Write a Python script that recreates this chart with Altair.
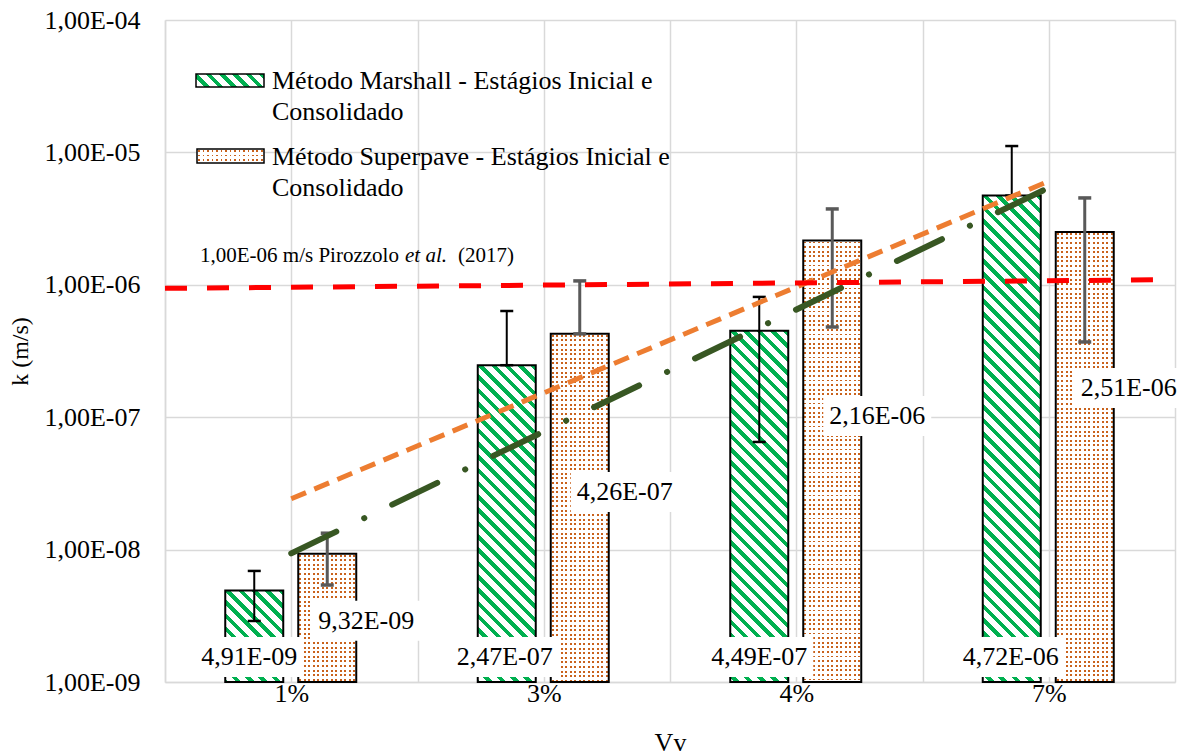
import altair as alt
import numpy as np
import pandas as pd

# ------------------------------------------------------------------ data
categories = ["1%", "3%", "4%", "7%"]
series_lines = [
    ["Método Marshall - Estágios Inicial e", "Consolidado"],
    ["Método Superpave - Estágios Inicial e", "Consolidado"],
]
marshall = [4.91e-9, 2.47e-7, 4.49e-7, 4.72e-6]
superpave = [9.32e-9, 4.26e-7, 2.16e-6, 2.51e-6]
marshall_hi = [6.9e-9, 6.34e-7, 8.1e-7, 1.117e-5]
marshall_lo = [2.89e-9, 2.47e-7, 6.5e-8, 4.72e-6]
superpave_hi = [1.33e-8, 1.07e-6, 3.74e-6, 4.53e-6]
superpave_lo = [5.4e-9, 4.26e-7, 4.8e-7, 3.7e-7]
limit_line = [9.4e-7, 1.09e-6]          # red reference line, left / right end
y_ticks = [1e-9, 1e-8, 1e-7, 1e-6, 1e-5, 1e-4]
annotation = ["1,00E-06 m/s Pirozzolo", "et al.", "(2017)"]

# label placement (pixel offset from category centre, y value)
m_label_dx = [-42, -39, -37, -38]
m_label_y = [1.545e-9, 1.545e-9, 1.545e-9, 1.545e-9]
s_label_dx = [75, 81, 81, 80]
s_label_y = [2.9e-9, 2.72e-8, 1.02e-7, 1.66e-7]

# ------------------------------------------------------------------ layout / style
W, H = 1010, 662
YMIN, YMAX = 1e-9, 1e-4
STEP = W / len(categories)
BAR_W = 58
OFFSETS = {"M": -37, "S": 36}
CAP = 13
FONT = "Liberation Serif"
GREEN = "#00B050"
DOT = "#C9621C"
WHITE = "#FFFFFF"
CLEAR = "rgba(255,255,255,0)"


def fmt(v):
    return f"{v:.2E}".replace(".", ",")


def px_height(v):
    return (np.log10(v) - np.log10(YMIN)) / (np.log10(YMAX) - np.log10(YMIN)) * H


def diag_gradient(w, h, period=13.3, frac=0.42, color=GREEN):
    L = w + h
    k = L / (w * w + h * h)
    stops = []
    n = int(np.ceil(L / period)) + 1
    for i in range(n):
        a = i * period / L
        b = (i * period + frac * period) / L
        c = (i + 1) * period / L
        for off, col in ((a, color), (b, color), (b, WHITE), (c, WHITE)):
            stops.append({"offset": float(min(max(off, 0.0), 1.0)), "color": col})
    return {"gradient": "linear", "x1": 1, "y1": 0,
            "x2": float(1 - k * w), "y2": float(k * h), "stops": stops}


def band_gradient(length, period, dot, on, off, vertical):
    stops = [{"offset": 0.0, "color": off}]
    i = 0
    while i * period < length:
        a = (i * period + 1.0) / length
        b = (i * period + 1.0 + dot) / length
        c = ((i + 1) * period + 1.0) / length
        for o, col in ((a, off), (a, on), (b, on), (b, off), (c, off)):
            stops.append({"offset": float(min(max(o, 0.0), 1.0)), "color": col})
        i += 1
    if vertical:
        return {"gradient": "linear", "x1": 0, "y1": 0, "x2": 0, "y2": 1, "stops": stops}
    return {"gradient": "linear", "x1": 0, "y1": 0, "x2": 1, "y2": 0, "stops": stops}


def rows_gradient(h):
    return band_gradient(h, 4.6, 1.9, DOT, WHITE, True)


def cols_gradient(w):
    return band_gradient(w, 4.5, 1.9, CLEAR, WHITE, False)


# ------------------------------------------------------------------ tables
rows = []
for s, vals, his, los in (("M", marshall, marshall_hi, marshall_lo),
                          ("S", superpave, superpave_hi, superpave_lo)):
    for i, (v, hi, lo) in enumerate(zip(vals, his, los)):
        xc = i + 1 + OFFSETS[s] / STEP
        rows.append(dict(bar=f"{s}{i}", s=s, xc=xc,
                         x0=xc - BAR_W / 2 / STEP, x1=xc + BAR_W / 2 / STEP,
                         c0=xc - CAP / 2 / STEP, c1=xc + CAP / 2 / STEP,
                         v=v, base=YMIN, hi=hi, lo=lo))
bars = pd.DataFrame(rows)

lab_rows = []
for i in range(len(categories)):
    lab_rows.append(dict(lx=i + 1 + m_label_dx[i] / STEP, ly=m_label_y[i], t=fmt(marshall[i])))
    lab_rows.append(dict(lx=i + 1 + s_label_dx[i] / STEP, ly=s_label_y[i], t=fmt(superpave[i])))
labels = pd.DataFrame(lab_rows)

xs_idx = np.arange(1, len(categories) + 1)
trend_rows = []
for s, vals in (("M", marshall), ("S", superpave)):
    slope, icpt = np.polyfit(xs_idx, np.log10(vals), 1)
    for xv in (xs_idx[0], xs_idx[-1]):
        trend_rows.append(dict(s=s, x=float(xv), y=float(10 ** (icpt + slope * xv))))
trend = pd.DataFrame(trend_rows)

limit = pd.DataFrame({"x0": [0.5], "x1": [0.5 + 991 / STEP],
                      "y0": [limit_line[0]], "y1": [limit_line[1]]})
one = pd.DataFrame({"k": [0]})

# ------------------------------------------------------------------ scales / axes
xs = alt.Scale(domain=[0.5, len(categories) + 0.5], nice=False, zero=False)
ys = alt.Scale(type="log", domain=[YMIN, YMAX], nice=False)

label_expr = " : ".join(f"datum.value == {i + 1} ? '{c}'" for i, c in enumerate(categories)) + " : ''"

x_axis = alt.Axis(
    values=[0.5 + 0.5 * k for k in range(2 * len(categories) + 1)],
    labelExpr=label_expr, grid=True, gridColor="#D9D9D9", gridWidth=1.5,
    domainColor="#D9D9D9", domainWidth=1.5, ticks=False, tickSize=0,
    labelFont=FONT, labelFontSize=26, labelColor="black", labelPadding=11,
    labelBaseline="middle", labelOverlap=False, labelFlush=False,
    title="Vv", titleFont=FONT, titleFontSize=26, titleFontWeight="normal",
    titleColor="black", titleX=W / 2, titleY=68, titleBaseline="alphabetic",
    titleAlign="center",
)
y_axis = alt.Axis(
    values=y_ticks, labelExpr="'1,00E-0' + abs(round(log(datum.value) / LN10))",
    grid=True, gridColor="#D9D9D9", gridWidth=1.5,
    domainColor="#D9D9D9", domainWidth=1.5, ticks=False, tickSize=0,
    labelFont=FONT, labelFontSize=26, labelColor="black", labelPadding=25,
    labelBaseline="middle", labelAlign="right", labelOverlap=False, labelFlush=False,
    title="k (m/s)", titleFont=FONT, titleFontSize=24, titleFontWeight="normal",
    titleColor="black", titleX=-145, titleY=H / 2, titleAngle=-90,
    titleAlign="center", titleBaseline="middle",
)


def X(field):
    return alt.X(f"{field}:Q", scale=xs, axis=x_axis)


def Y(field):
    return alt.Y(f"{field}:Q", scale=ys, axis=y_axis)


def rect_enc():
    return dict(x=X("x0"), x2="x1:Q", y=Y("v"), y2="base:Q")


layers = []

# Marshall bars: diagonal hatch
for r in bars[bars.s == "M"].itertuples():
    layers.append(
        alt.Chart(bars).transform_filter(alt.datum.bar == r.bar)
        .mark_rect(fill=diag_gradient(BAR_W, px_height(r.v)), stroke="black", strokeWidth=2)
        .encode(**rect_enc())
    )

# Superpave bars: dotted (rows x columns)
for r in bars[bars.s == "S"].itertuples():
    layers.append(
        alt.Chart(bars).transform_filter(alt.datum.bar == r.bar)
        .mark_rect(fill=rows_gradient(px_height(r.v)))
        .encode(**rect_enc())
    )
layers.append(
    alt.Chart(bars).transform_filter(alt.datum.s == "S")
    .mark_rect(fill=cols_gradient(BAR_W), stroke="black", strokeWidth=2)
    .encode(**rect_enc())
)

# error bars
for s, col, sw in (("M", "black", 2), ("S", "#595959", 3)):
    base = alt.Chart(bars).transform_filter(alt.datum.s == s)
    layers.append(base.mark_rule(color=col, strokeWidth=sw).encode(
        x=X("xc"), y=Y("lo"), y2="hi:Q"))
    for fld in ("hi", "lo"):
        layers.append(base.mark_rule(color=col, strokeWidth=sw + 0.5).encode(
            x=X("c0"), x2="c1:Q", y=Y(fld)))

# trend lines
layers.append(
    alt.Chart(trend).transform_filter(alt.datum.s == "S")
    .mark_line(color="#ED7D31", strokeWidth=5, strokeDash=[16, 9])
    .encode(x=X("x"), y=Y("y"))
)
layers.append(
    alt.Chart(trend).transform_filter(alt.datum.s == "M")
    .mark_line(color="#385723", strokeWidth=6, strokeDash=[50, 31, 0.1, 31], strokeCap="round")
    .encode(x=X("x"), y=Y("y"))
)

# red reference line
layers.append(
    alt.Chart(limit).mark_rule(color="#FF0000", strokeWidth=5, strokeDash=[22, 20])
    .encode(x=X("x0"), x2="x1:Q", y=Y("y0"), y2="y1:Q")
)

# data labels
layers.append(
    alt.Chart(labels).mark_point(shape="M-1,-0.37L1,-0.37L1,0.37L-1,0.37Z", filled=True,
                                 fill="white", size=108 ** 2, opacity=1, strokeWidth=0)
    .encode(x=X("lx"), y=Y("ly"))
)
layers.append(
    alt.Chart(labels).mark_text(font=FONT, fontSize=26, color="black",
                                baseline="middle", align="center")
    .encode(x=X("lx"), y=Y("ly"), text="t:N")
)

# legend
layers.append(
    alt.Chart(one).mark_rect(fill=diag_gradient(68, 13), stroke="black", strokeWidth=1.5)
    .encode(x=alt.value(31), x2=alt.value(99), y=alt.value(54), y2=alt.value(67))
)
layers.append(
    alt.Chart(one).mark_rect(fill=rows_gradient(14))
    .encode(x=alt.value(32), x2=alt.value(99), y=alt.value(129), y2=alt.value(143))
)
layers.append(
    alt.Chart(one).mark_rect(fill=cols_gradient(67), stroke="black", strokeWidth=1.5)
    .encode(x=alt.value(32), x2=alt.value(99), y=alt.value(129), y2=alt.value(143))
)
for lines, y0 in zip(series_lines, (61, 136.5)):
    for j, line in enumerate(lines):
        layers.append(
            alt.Chart(one).mark_text(font=FONT, fontSize=26, color="black",
                                     align="left", baseline="middle")
            .encode(x=alt.value(107), y=alt.value(y0 + 31 * j), text=alt.value(line))
        )

# annotation
for txt, xp, style in zip(annotation, (35, 240, 293), ("normal", "italic", "normal")):
    layers.append(
        alt.Chart(one).mark_text(font=FONT, fontSize=21, color="black", align="left",
                                 baseline="middle", fontStyle=style)
        .encode(x=alt.value(xp), y=alt.value(236), text=alt.value(txt))
    )

chart = alt.layer(*layers).properties(
    width=W, height=H,
    padding={"left": 165, "top": 20, "right": 15, "bottom": 73},
    autosize=alt.AutoSizeParams(type="none"),
    background="white",
).configure_view(strokeWidth=0)

chart.save("out.html", embed_options={"renderer": "svg", "actions": False})
